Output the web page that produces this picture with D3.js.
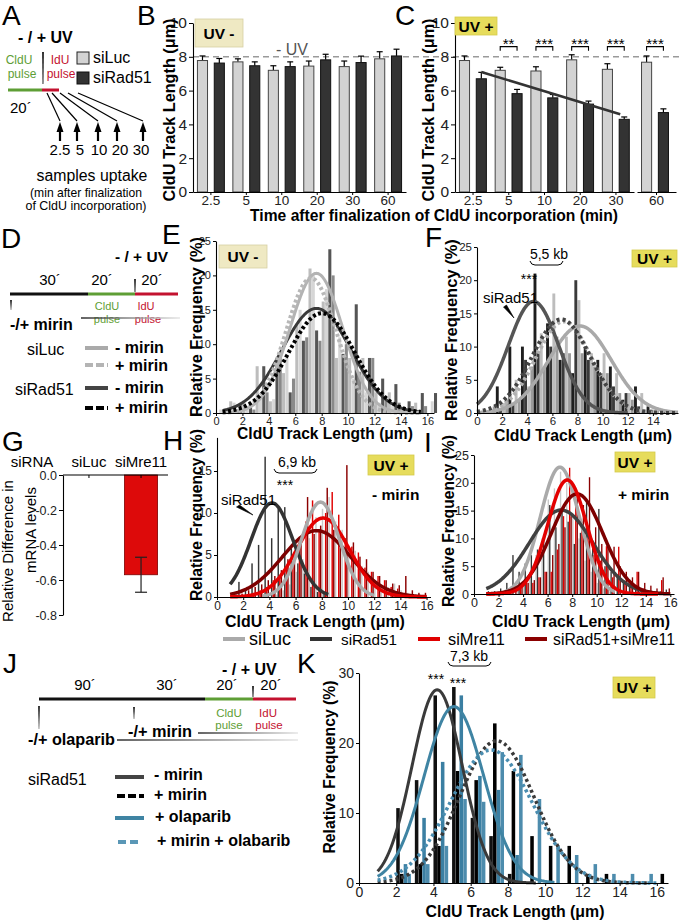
<!DOCTYPE html>
<html><head><meta charset="utf-8">
<script src="https://cdn.jsdelivr.net/npm/d3@7"></script>
<style>body{margin:0;background:#fff}svg{display:block}</style>
</head><body>
<script>
// ================= DATA =================
// Panels B / C : CldU track length (µm), mean and error
const timeCats = ["2.5","5","10","20","30","60"];
const bSiLuc    = [7.78,7.70,7.20,7.45,7.42,7.88];
const bSiLucErr = [0.27,0.18,0.27,0.30,0.33,0.42];
const bSiRad    = [7.63,7.47,7.42,7.82,7.66,8.05];
const bSiRadErr = [0.27,0.23,0.28,0.33,0.38,0.40];
const cSiLuc    = [7.78,7.20,7.16,7.82,7.26,7.68];
const cSiLucErr = [0.27,0.18,0.25,0.30,0.33,0.37];
const cSiRad    = [6.70,5.82,5.57,5.20,4.30,4.70];
const cSiRadErr = [0.38,0.25,0.20,0.18,0.14,0.22];
const cSig      = ["","**","***","***","***","***"];
const cTrend    = [7.1,4.6];           // regression line, values at 2.5 and 30 min
const noUVRef   = 8;                    // "- UV" reference level
const bcTicks   = [0,2,4,6,8,10];

// Panel G : mRNA levels
const gCats = ["siLuc","siMre11"];
const gVals = [0,-0.57];
const gErr  = [0,0.10];
const gTicks = [0,-0.2,-0.4,-0.6,-0.8];

// Panel E (UV -): bins of 1 µm, series siLuc-mirin, siLuc+mirin, siRad51-mirin, siRad51+mirin
const eBins = [0,1,2,3,4,5,6,7,8,9,10,11,12,13,14,15,16];
const eLucM = [0,1.7,1.5,6.8,1.7,5.8,13,21,16.2,8,8,8,3,3,0.5,1.5,0];
const eLucP = [0.5,1.5,1,2,2,8,15,20,18,11,5,3,1.5,1,0,0.5,1.7];
const eRadM = [0,0.5,1,6.8,8,3,10.5,12,23.8,8.6,15.8,8,5,4.2,1.7,2.9,2.9];
const eRadP = [0.5,1.5,0.5,3,8,5,11,10.5,20,10,6,8,2,1.5,1,1,0];
const eFitMean = [7.6,7.2,7.6,8.0];
const eFitSd   = [2.0,1.9,2.6,2.5];
const eFitPeak = [20.3,19.6,15.2,14.5];

// Panel F (UV +)
const fBins = [0,1,2,3,4,5,6,7,8,9,10,11,12,13,14,15];
const fLucM = [0,0.5,1.5,5,4,12,18,11.5,17,9,9,6,3,3,0.5,0];
const fLucP = [0,1,2,2,7,7,11.5,9,9,7,6,3,2,0.5,0.3,0];
const fRadM = [0.5,4,10,10,21,13.5,8,6,10,8,7,2,4,1,0,0];
const fRadP = [0,0.5,1.5,8,9,10,9,20,8,6,4,3,1,0.5,0.3,0];
const fFitMean = [8.2,6.9,4.5,6.7];
const fFitSd   = [2.5,2.2,2.0,2.3];
const fFitPeak = [13.1,13.8,16.8,14.1];

// Panels H (- mirin) and I (+ mirin): bins of 0.5 µm, series siLuc, siRad51, siMre11, siRad51+siMre11
const hiBins = [1,1.5,2,2.5,3,3.5,4,4.5,5,5.5,6,6.5,7,7.5,8,8.5,9,9.5,10,10.5,11,11.5,12,12.5,13,13.5,14,14.5,15,15.5];
const hLuc    = [0,0,0,0,0,0,0,0.3,0.8,1.5,3,4.5,7,9.5,10.5,11.9,9,8,5.5,5.5,3.7,3,2,1.5,1.2,1.6,0.8,0.5,0,0];
const hRad    = [0.5,1.8,1,4,6.2,16.7,7,10.5,10.7,5.8,4,2.8,1.2,0.6,0.5,0,0,0,0,0,0,0,0,0,0,0,0,0,0,0];
const hMre    = [0,0,0,0.5,0.8,1.2,2,2.5,3.5,4,6.5,9,11.5,8,10,12.5,9.8,7,6,5.3,3.5,3,2.5,2,1.2,1,0.5,0.3,0,0];
const hRadMre = [0,0.4,0.8,1.2,1.5,2,2.5,3.2,4.5,5.2,6.5,11.9,7.5,8.5,13,8,7.5,15.7,6.5,4.8,4.5,3,2.5,2,1.6,1.4,2.5,0.8,0.5,0.5];
const hFitMean = [7.9,4.2,8.1,7.6];
const hFitSd   = [1.45,1.6,2.0,2.6];
const hFitPeak = [11.3,11.2,9.4,7.9];
const iLuc    = [0,0,0,0,0.5,1,2,4,7,10,17,19,22,20,14,10,6,4,2,1,0.5,0,0,0,0,0,0,0,0,0];
const iRad    = [0.5,0.5,1,2,7,4,5.5,7,8,10,16,12,15,13,9,11,17,9,15.3,5,4,3,2,1.5,1,0.8,0.5,0,0.5,0.8];
const iMre    = [0,0,0,0,0,1,2,2,3,4,4,8,14,22.7,16,13,11,7,6,8.6,3,8.5,2,1.5,4,1,0.5,0,2.5,0];
const iRadMre = [0,0,0.5,0,1,1.5,2,2.5,3,4,7,9,12,14,18,16,21,12,9,8.6,8.5,5,4,3,4,2,1.5,1,3,1];
const iFitMean = [7.0,7.1,7.6,8.4];
const iFitSd   = [1.6,2.6,1.6,2.1];
const iFitPeak = [22.8,15.1,20.5,18.0];

// Panel K: bins of 1 µm, series siRad51 -mirin, +mirin, +olaparib, +mirin+olaparib
const kBins   = [1,2,3,4,5,6,7,8,9,10,11,12,13,14,15,16];
const kMinus  = [0,10.7,14.7,26.8,28,9.3,6.7,1.3,0,0,0,0,0,0,0,0];
const kPlus   = [0,1.3,2.7,5.3,16,14.7,22.8,16,6.7,5.3,5.3,1.3,1.3,0,0,1.3];
const kOla    = [0,2.7,9.3,17.3,26.8,15.3,13.3,4,0,0,0,0,0,0,0,0];
const kOlaMir = [0,1.3,2.7,5.3,12,11.6,18.7,18.3,12,5.3,4,2.7,1.3,1.3,1.3,0];
const kFitMean = [4.2,7.4,5.1,7.1];
const kFitSd   = [1.35,2.0,1.6,2.2];
const kFitPeak = [27.6,20.3,25.2,19.0];

const histXTicks = [0,2,4,6,8,10,12,14,16];

// ================= DRAWING =================
const FONT = "'Liberation Sans', Arial, Helvetica, sans-serif";
const GREEN = "#5e9e35", RED = "#c3122f", TEAL = "#3f84a3";
const svg = d3.select("body").append("svg").attr("width",680).attr("height",922);
svg.append("rect").attr("width",680).attr("height",922).attr("fill","#fff");
const defs = svg.append("defs");
const gr = defs.append("linearGradient").attr("id","fade").attr("x1","0").attr("x2","1").attr("y1","0").attr("y2","0");
gr.append("stop").attr("offset","0").attr("stop-color","#222");
gr.append("stop").attr("offset","1").attr("stop-color","#e4e4e4");

function T(x,y,s,o={}){
  const t = svg.append("text").attr("x",x).attr("y",y).text(s)
    .attr("font-family",FONT).attr("font-size",o.fs||14)
    .attr("font-weight",o.b?"bold":"normal").attr("fill",o.c||"#000")
    .attr("text-anchor",o.a||"start");
  if(o.rot) t.attr("transform",`rotate(-90 ${x} ${y})`);
  if(o.w){const L=t.node().getComputedTextLength(); if(L>0) t.attr("font-size",(o.fs||14)*o.w/L);}
  return t;
}
function L(x1,y1,x2,y2,c="#000",w=1,dash=null){
  return svg.append("line").attr("x1",x1).attr("y1",y1).attr("x2",x2).attr("y2",y2)
    .attr("stroke",c).attr("stroke-width",w).attr("stroke-dasharray",dash);
}
function box(x,y,w,h,fill,stroke,label){
  svg.append("rect").attr("x",x).attr("y",y).attr("width",w).attr("height",h).attr("fill",fill).attr("stroke",stroke).attr("stroke-width",0.8);
  T(x+w/2,y+h/2+5.5,label,{fs:15.5,b:1,a:"middle"});
}
function styleAxis(g,fs){
  g.select(".domain").attr("stroke","#000").attr("stroke-width",1.1);
  g.selectAll(".tick line").attr("stroke","#000");
  g.selectAll(".tick text").attr("font-size",fs).attr("font-family",FONT).attr("fill","#222");
}
function axes(xs,ys,yt,fs,xt=histXTicks){
  const gx = svg.append("g").attr("transform",`translate(0,${ys.range()[0]})`)
    .call(d3.axisBottom(xs).tickValues(xt).tickSize(3).tickPadding(1).tickSizeOuter(0));
  const gy = svg.append("g").attr("transform",`translate(${xs.range()[0]},0)`)
    .call(d3.axisLeft(ys).tickValues(yt).tickSize(3).tickPadding(2).tickSizeOuter(0));
  styleAxis(gx,fs); styleAxis(gy,fs);
}
function hist(xs,ys,bins,series,colors,off,bw){
  series.forEach((arr,si)=>{
    svg.append("g").selectAll("rect").data(arr.map((v,i)=>({x:bins[i],v})).filter(d=>d.v>0)).join("rect")
      .attr("x",d=>xs(d.x+si*off)).attr("width",xs(bw)-xs(0))
      .attr("y",d=>ys(d.v)).attr("height",d=>ys(0)-ys(d.v)).attr("fill",colors[si]);
  });
}
function curves(xs,ys,means,sds,peaks,ranges,styles,order){
  order.forEach(i=>{
    const pts = d3.range(ranges[i][0],ranges[i][1]+1e-9,0.05)
      .map(x=>[x,peaks[i]*Math.exp(-((x-means[i])**2)/(2*sds[i]**2))]);
    svg.append("path").attr("d",d3.line().x(d=>xs(d[0])).y(d=>ys(d[1]))(pts))
      .attr("fill","none").attr("stroke",styles[i].c).attr("stroke-width",styles[i].w||3)
      .attr("stroke-dasharray",styles[i].d||null);
  });
}
function fadeLine(x1,x2,y){
  svg.append("rect").attr("x",x1).attr("y",y-0.7).attr("width",x2-x1).attr("height",1.4).attr("fill","url(#fade)");
}
function kbBracket(x1,x2,y){
  svg.append("path").attr("d",`M${x1},${y-4} Q${x1+1},${y} ${x1+5},${y} L${x2-5},${y} Q${x2-1},${y} ${x2},${y-4}`)
    .attr("fill","none").attr("stroke","#000").attr("stroke-width",1);
}
function pointer(x1,y1,x2,y2){
  svg.append("path").attr("d",`M${x1-1.5},${y1+1} L${x1+1.5},${y1-1} L${x2},${y2} Z`).attr("fill","#000").attr("stroke","#000").attr("stroke-width",0.6);
}
const AXT = "CldU Track Length (μm)";
const RF = "Relative Frequency (%)";

// ---------- Panel letters ----------
[["A",2,25],["B",137,25],["C",395,25],["D",1,248],["E",162,244],["F",425,247],["G",2,451],["H",163,450],["I",424,452],["J",3,673],["K",297,673]]
  .forEach(p=>T(p[1],p[2],p[0],{fs:28}));

// ---------- Panel A ----------
T(18,43,"- / + UV",{fs:16,b:1});
T(19,64,"CldU",{fs:12,c:GREEN,a:"middle"});
T(22,78,"pulse",{fs:12,c:GREEN,a:"middle"});
T(60,64,"IdU",{fs:12,c:RED,a:"middle"});
T(61,78,"pulse",{fs:12,c:RED,a:"middle"});
svg.append("path").attr("d","M42.2,52 L43.8,52 L43.4,84 L42.6,84 Z").attr("fill","#000");
L(8,90,42,90,GREEN,3); L(42,90,59,90,RED,3);
T(10,113,"20´",{fs:15});
const aArrowX=[60,77,98,117,143], aStartX=[47,52,60,68,78], aLabX=[60,80,99,120,141];
aArrowX.forEach((ax,i)=>{
  L(aStartX[i],93,ax,121,"#000",1.2);
  L(ax,129,ax,141,"#000",2.2);
  svg.append("path").attr("d",`M${ax-3.5},${132} L${ax+3.5},${132} L${ax},${122} Z`).attr("fill","#000");
  T(aLabX[i],155,timeCats[i],{fs:15,a:"middle"});
});
T(92,181,"samples uptake",{fs:16,a:"middle",w:111});
T(86,197,"(min after finalization",{fs:12,a:"middle",w:112});
T(86,210,"of CldU incorporation)",{fs:12,a:"middle",w:121});
svg.append("rect").attr("x",77).attr("y",52).attr("width",12).attr("height",12).attr("fill","#d3d3d3").attr("stroke","#222");
svg.append("rect").attr("x",77).attr("y",72).attr("width",12).attr("height",12).attr("fill","#333").attr("stroke","#111");
T(93,63,"siLuc",{fs:16}); T(93,83,"siRad51",{fs:16});

// ---------- Panels B / C ----------
const yBC = d3.scaleLinear().domain([0,10]).range([192,23]);
const xB  = d3.scaleBand().domain(timeCats).range([193,406]).paddingInner(0.05).paddingOuter(0.03);
const xC1 = d3.scaleBand().domain(timeCats.slice(0,5)).range([455,634]).paddingInner(0.05).paddingOuter(0.03);
const xC2 = d3.scaleBand().domain(["60"]).range([637,676]).paddingInner(0.05).paddingOuter(0.03);
const xC = c => c==="60" ? xC2(c) : xC1(c);
const sub = d3.scaleBand().domain([0,1]).range([0,xB.bandwidth()]).paddingInner(0.4).paddingOuter(0.2);
function barSet(xf,luc,lucE,rad,radE){
  const bars=[];
  timeCats.forEach((c,i)=>{
    bars.push({x:xf(c)+sub(0),v:luc[i],e:lucE[i],f:"#d3d3d3",s:"#444"});
    bars.push({x:xf(c)+sub(1),v:rad[i],e:radE[i],f:"#333",s:"#111"});
  });
  const bw=sub.bandwidth();
  bars.forEach(b=>{
    L(b.x+bw/2,yBC(b.v),b.x+bw/2,yBC(b.v+b.e),"#000",1.2);
    L(b.x+bw/2-3,yBC(b.v+b.e),b.x+bw/2+3,yBC(b.v+b.e),"#000",1.2);
  });
  svg.append("g").selectAll("rect").data(bars).join("rect")
    .attr("x",d=>d.x).attr("width",bw).attr("y",d=>yBC(d.v)).attr("height",d=>yBC(0)-yBC(d.v))
    .attr("fill",d=>d.f).attr("stroke",d=>d.s).attr("stroke-width",1);
}
L(193,yBC(noUVRef),680,yBC(noUVRef),"#9a9a9a",1.4,"6,4");
barSet(xB,bSiLuc,bSiLucErr,bSiRad,bSiRadErr);
barSet(xC,cSiLuc,cSiLucErr,cSiRad,cSiRadErr);
function bcAxes(xs,left){
  const gx=svg.append("g").attr("transform",`translate(0,${yBC(0)})`).call(d3.axisBottom(xs).tickSize(3).tickPadding(0).tickSizeOuter(0));
  styleAxis(gx,13.5);
  if(left){
    const gy=svg.append("g").attr("transform",`translate(${left},0)`).call(d3.axisLeft(yBC).tickValues(bcTicks).tickSize(4).tickPadding(2).tickSizeOuter(0));
    styleAxis(gy,15.5);
  }
}
bcAxes(xB,193); bcAxes(xC1,455); bcAxes(xC2,null);
box(195,19,48,28,"#efe9c3","#d6cfa4","UV -");
box(455,17,42,18,"#e6dc5c","#d4ca4c","UV +");
T(292,55,"- UV",{fs:16,c:"#555",a:"middle"});
// trend line in C
const dkC = c => xC(c)+sub(1)+sub.bandwidth()/2;
L(dkC("2.5"),yBC(cTrend[0]),dkC("30")-4,yBC(cTrend[1]),"#333",2.5);
// significance
timeCats.forEach((c,i)=>{
  if(!cSig[i]) return;
  const x1=xC(c)+sub(0)+sub.bandwidth()/2, x2=xC(c)+sub(1)+sub.bandwidth()/2, y=yBC(8.6);
  svg.append("path").attr("d",`M${x1},${y+4} L${x1},${y} L${x2},${y} L${x2},${y+4}`).attr("fill","none").attr("stroke","#000").attr("stroke-width",1.1);
  T((x1+x2)/2,y+2.5,cSig[i],{fs:15,a:"middle"});
});
T(175,110,AXT,{fs:15,b:1,a:"middle",rot:1,w:183});
T(434,110,AXT,{fs:15,b:1,a:"middle",rot:1,w:183});
T(434,221,"Time after finalization of CldU incorporation (min)",{fs:14,b:1,a:"middle",w:368});

// ---------- Panel D ----------
T(115,262,"- / + UV",{fs:15.5,b:1});
T(50,285,"30´",{fs:15,a:"middle"}); T(102,285,"20´",{fs:15,a:"middle"}); T(152,285,"20´",{fs:15,a:"middle"});
svg.append("path").attr("d","M134.2,279 L135.8,279 L135.4,292 L134.6,292 Z").attr("fill","#000");
L(10,294,88,294,"#111",3); L(88,294,135,294,GREEN,3); L(135,294,178,294,RED,3);
svg.append("path").attr("d","M10.2,300 L11.8,300 L11.2,310 L10.8,310 Z").attr("fill","#000");
T(107,310,"CldU",{fs:11,c:GREEN,a:"middle"}); T(107,323,"pulse",{fs:11,c:GREEN,a:"middle"});
T(146,310,"IdU",{fs:11,c:RED,a:"middle"}); T(148,323,"pulse",{fs:11,c:RED,a:"middle"});
T(10,330,"-/+ mirin",{fs:16,b:1});
fadeLine(81,180,318);
T(27,355,"siLuc",{fs:16}); T(15,395,"siRad51",{fs:16});
L(85,348,108,348,"#aaa",4); L(85,365,108,365,"#b4b4b4",4,"8,3");
L(85,388,108,388,"#444",4); L(85,408,108,408,"#000",4,"8,3");
T(115,353,"- mirin",{fs:16,b:1}); T(115,371,"+ mirin",{fs:16,b:1});
T(115,393,"- mirin",{fs:16,b:1}); T(115,413,"+ mirin",{fs:16,b:1});

// ---------- Panel E ----------
const xE = d3.scaleLinear().domain([0,16.5]).range([216,434]);
const yE = d3.scaleLinear().domain([0,25]).range([413,241]);
hist(xE,yE,eBins,[eLucM,eLucP,eRadM,eRadP],["#bdbdbd","#d6d6d6","#555","#8a8a8a"],0.25,0.23);
curves(xE,yE,eFitMean,eFitSd,eFitPeak,[[0.5,15.5],[0.5,15.5],[0.5,15.5],[0.5,15.5]],
  [{c:"#b3b3b3",w:3},{c:"#b8b8b8",w:4,d:"3,2.5"},{c:"#3a3a3a",w:3},{c:"#000",w:4,d:"3,2.5"}],[2,0,1,3]);
axes(xE,yE,[0,5,10,15,20,25],11);
box(219,245,48,23,"#efe9c3","#d6cfa4","UV -");
T(202,327,RF,{fs:15,b:1,a:"middle",rot:1,w:180});
T(325,439,AXT,{fs:16,b:1,a:"middle",w:176});

// ---------- Panel F ----------
const xF = d3.scaleLinear().domain([0,16]).range([477,678]);
const yF = d3.scaleLinear().domain([0,25]).range([413,247]);
hist(xF,yF,fBins,[fLucM,fLucP,fRadM,fRadP],["#bdbdbd","#9a9a9a","#1e1e1e","#3a3a3a"],0.25,0.23);
curves(xF,yF,fFitMean,fFitSd,fFitPeak,[[0,16],[0,16],[0,12],[0,16]],
  [{c:"#a9a9a9",w:3.5},{c:"#b0b0b0",w:4,d:"3,3"},{c:"#555",w:3.5},{c:"#444",w:4,d:"3,3"}],[0,2,1,3]);
axes(xF,yF,[0,5,10,15,20,25],11.5,[0,2,4,6,8,10,12,14]);
box(632,250,45,17,"#e6dc5c","#d4ca4c","UV +");
T(457,330,RF,{fs:15,b:1,a:"middle",rot:1,w:182});
T(583,441,AXT,{fs:16,b:1,a:"middle",w:178});
T(549,259,"5,5 kb",{fs:14,a:"middle"}); kbBracket(530,563,265);
T(529,284,"***",{fs:14,a:"middle"});
T(483,303,"siRad51",{fs:15});
pointer(505,306,514,318);

// ---------- Panel G ----------
const yG = d3.scaleLinear().domain([-0.8,0]).range([615,475]);
const xG = d3.scaleBand().domain(gCats).range([62,168]).paddingInner(0.365).paddingOuter(0.2);
const gy = svg.append("g").attr("transform","translate(63,0)").call(d3.axisLeft(yG).tickValues(gTicks).tickFormat(d=>d.toFixed(1)).tickSize(4).tickPadding(2).tickSizeOuter(0));
styleAxis(gy,12.5);
gCats.forEach((c,i)=>{
  if(gVals[i]<0){
    svg.append("rect").attr("x",xG(c)).attr("width",xG.bandwidth()).attr("y",yG(0)).attr("height",yG(gVals[i])-yG(0))
      .attr("fill","#dd0a0a").attr("stroke","#7a0000").attr("stroke-width",0.8);
    const cx=xG(c)+xG.bandwidth()/2;
    L(cx,yG(gVals[i]+gErr[i]),cx,yG(gVals[i]-gErr[i]),"#222",1.2);
    L(cx-6,yG(gVals[i]+gErr[i]),cx+6,yG(gVals[i]+gErr[i]),"#222",1.2);
    L(cx-6,yG(gVals[i]-gErr[i]),cx+6,yG(gVals[i]-gErr[i]),"#222",1.2);
  }
  const cx=xG(c)+xG.bandwidth()/2;
  L(cx,yG(0),cx,yG(0)+3,"#000",1);
  T(cx,467,c,{fs:15,a:"middle"});
});
L(63,yG(0),168,yG(0),"#000",1.1);
T(32,467,"siRNA",{fs:15,a:"middle"});
T(13,551,"Relative Difference in",{fs:14,a:"middle",rot:1,w:142});
T(36,530,"mRNA levels",{fs:15,a:"middle",rot:1});

// ---------- Panel H ----------
const xH = d3.scaleLinear().domain([0,16.3]).range([217,430.5]);
const yH = d3.scaleLinear().domain([0,19]).range([597,437.4]);
const hiColors = ["#c8c8c8","#333","#e00000","#8b0000"];
hist(xH,yH,hiBins,[hLuc,hRad,hMre,hRadMre],hiColors,0.12,0.11);
curves(xH,yH,hFitMean,hFitSd,hFitPeak,[[3.5,12],[1,8.5],[1,16],[1,16]],
  [{c:"#aaa",w:3.5},{c:"#333",w:3.5},{c:"#e30000",w:3.5},{c:"#7d0000",w:3.5}],[3,2,1,0]);
axes(xH,yH,[0,5,10,15],12);
box(368,455,46,20,"#e6dc5c","#d4ca4c","UV +");
T(372,500,"- mirin",{fs:15.5,b:1});
T(202,515,RF,{fs:15,b:1,a:"middle",rot:1,w:172});
T(315,627,AXT,{fs:16,b:1,a:"middle",w:180});
T(297,467,"6,9 kb",{fs:14,a:"middle"}); kbBracket(274,317,473);
T(285,490,"***",{fs:14,a:"middle"});
T(221,505,"siRad51",{fs:15});
pointer(238,506,253,515);

// ---------- Panel I ----------
const xI = d3.scaleLinear().domain([0,16.3]).range([474,674]);
const yI = d3.scaleLinear().domain([0,25]).range([594,455]);
hist(xI,yI,hiBins,[iLuc,iRad,iMre,iRadMre],hiColors,0.12,0.11);
curves(xI,yI,iFitMean,iFitSd,iFitPeak,[[2.5,11.5],[1,15],[1,15],[1,16]],
  [{c:"#aaa",w:3.5},{c:"#404040",w:3.5},{c:"#e30000",w:3.5},{c:"#7d0000",w:3.5}],[0,1,3,2]);
axes(xI,yI,[0,5,10,15,20,25],12.5);
box(615,452,40,20,"#e6dc5c","#d4ca4c","UV +");
T(618,500,"+ mirin",{fs:15.5,b:1});
T(454,521,RF,{fs:15,b:1,a:"middle",rot:1,w:172});
T(581,627,AXT,{fs:16,b:1,a:"middle",w:178});

// legend H/I
const hiNames = ["siLuc","siRad51","siMre11","siRad51+siMre11"];
const legX = [223,310,418,525], legTX=[249,341,448,553], legW=[42,56,57,122];
hiNames.forEach((n,i)=>{
  L(legX[i],639,legX[i]+22,639,i===0?"#aaa":hiColors[i],4);
  T(legTX[i],645,n,{fs:16,w:legW[i]});
});

// ---------- Panel J ----------
T(222,675,"- / + UV",{fs:16,b:1});
T(85,690,"90´",{fs:15,a:"middle"}); T(167,690,"30´",{fs:15,a:"middle"});
T(227,690,"20´",{fs:15,a:"middle"}); T(271,690,"20´",{fs:15,a:"middle"});
svg.append("path").attr("d","M252.2,686 L253.8,686 L253.4,697 L252.6,697 Z").attr("fill","#000");
L(39,699,205,699,"#111",3); L(205,699,253,699,GREEN,3); L(253,699,296,699,RED,3);
svg.append("path").attr("d","M38.2,706 L39.8,706 L39.2,729 L38.8,729 Z").attr("fill","#000");
svg.append("path").attr("d","M133.2,707 L134.8,707 L134.2,719 L133.8,719 Z").attr("fill","#000");
T(229,717,"CldU",{fs:11.5,c:GREEN,a:"middle"}); T(229,729,"pulse",{fs:11.5,c:GREEN,a:"middle"});
T(268,717,"IdU",{fs:11.5,c:RED,a:"middle"}); T(269,729,"pulse",{fs:11.5,c:RED,a:"middle"});
T(28,745,"-/+ olaparib",{fs:16,b:1,w:87});
fadeLine(117,298,740);
T(128,737,"-/+ mirin",{fs:16,b:1,w:64});
fadeLine(198,298,733);
T(28,785,"siRad51",{fs:16});
L(115,777,144,777,"#444",4); L(117,796,144,796,"#000",4,"8,3");
L(115,818,144,818,TEAL,4); L(118,842,142,842,"#5a97b6",4,"8,4");
T(154,780,"- mirin",{fs:16,b:1}); T(154,800,"+ mirin",{fs:16,b:1});
T(155,822,"+ olaparib",{fs:16,b:1}); T(157,846,"+ mirin + olabarib",{fs:16,b:1});

// ---------- Panel K ----------
const xK = d3.scaleLinear().domain([0,16.6]).range([359,668]);
const yK = d3.scaleLinear().domain([0,30]).range([883,673]);
hist(xK,yK,kBins,[kMinus,kPlus,kOla,kOlaMir],["#111","#000","#3b7fa2","#4d8cad"],0.2,0.19);
curves(xK,yK,kFitMean,kFitSd,kFitPeak,[[1,9.5],[1,15.5],[1,10.5],[1,16]],
  [{c:"#3a3a3a",w:3},{c:"#3a3a3a",w:3.5,d:"3,3"},{c:TEAL,w:3},{c:"#4a8db0",w:3.5,d:"3,3"}],[1,3,0,2]);
axes(xK,yK,[0,10,20,30],14);
box(613,677,42,21,"#e6dc5c","#d4ca4c","UV +");
T(335,767,RF,{fs:15,b:1,a:"middle",rot:1,w:173});
T(515,917,AXT,{fs:16,b:1,a:"middle",w:179});
T(469,661,"7,3 kb",{fs:14,a:"middle"}); kbBracket(448,491,666);
T(436,684,"***",{fs:14,a:"middle"}); T(458,688,"***",{fs:14,a:"middle"});
</script>
</body></html>
